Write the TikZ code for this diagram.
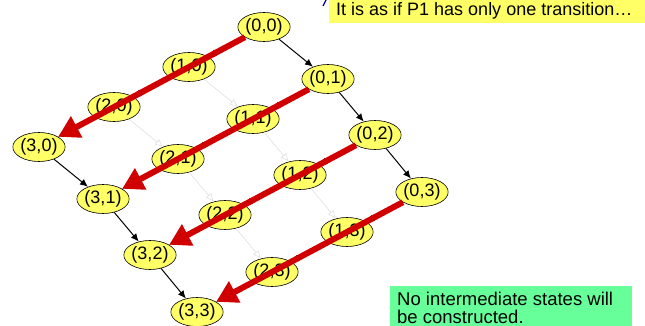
\documentclass[tikz,border=0pt]{standalone}
\usepackage{fontspec}
\setmainfont{Liberation Sans}
\usetikzlibrary{shapes.geometric,arrows.meta}
\definecolor{stYellow}{RGB}{255,255,102}
\definecolor{noteGreen}{RGB}{102,255,153}
\definecolor{bigRed}{RGB}{208,0,0}
\tikzset{
  st/.style={ellipse,draw=black,line width=0.6pt,fill=stYellow,minimum width=52pt,minimum height=29pt,inner sep=0pt,font=\fontsize{18}{20}\selectfont},
  blk/.style={draw=black,line width=1pt,-{Latex[length=8pt,width=7pt]}},
  faint/.style={draw=black!14,line width=0.5pt,-{Latex[open,length=8pt,width=7pt]}},
  redarrow/.style={draw=bigRed,line width=6pt,-{Triangle[length=21pt,width=23pt]}},
  notetext/.style={anchor=base west,inner sep=0pt,font=\fontsize{18}{20}\selectfont},
  greentext/.style={anchor=base west,inner sep=0pt,font=\fontsize{18.5}{20}\selectfont}
}
\begin{document}
\begin{tikzpicture}[x=1pt,y=-1pt]
\useasboundingbox (0,0) rectangle (645,326);
% note boxes
\fill[stYellow] (329,0) rectangle (645,23);
\node[notetext] (topnote) at (336,16) {It is as if P1 has only one transition…};
\fill[noteGreen] (390,286) rectangle (632,330);
\node[greentext] (gl1) at (397,305) {No intermediate states will};
\node[greentext] (gl2) at (397,323) {be constructed.};
\draw[blue!70!black,line width=1.2pt] (326,0) -- (323,6);
% states
\node[st] (n00) at (264,27) {(0,0)};
\node[st] (n01) at (328,79) {(0,1)};
\node[st] (n02) at (375,135) {(0,2)};
\node[st] (n03) at (422,192) {(0,3)};
\node[st] (n10) at (189,67) {(1,0)};
\node[st] (n11) at (253,119) {(1,1)};
\node[st] (n12) at (300,175) {(1,2)};
\node[st] (n13) at (347,232) {(1,3)};
\node[st] (n20) at (114,107) {(2,0)};
\node[st] (n21) at (178,159) {(2,1)};
\node[st] (n22) at (225,215) {(2,2)};
\node[st] (n23) at (272,272) {(2,3)};
\node[st] (n30) at (39,147) {(3,0)};
\node[st] (n31) at (103,199) {(3,1)};
\node[st] (n32) at (150,255) {(3,2)};
\node[st] (n33) at (197,312) {(3,3)};
% black edges along second component
\foreach \i in {0,3}{
  \draw[blk] (n\i0) -- (n\i1);
  \draw[blk] (n\i1) -- (n\i2);
  \draw[blk] (n\i2) -- (n\i3);
}
% faint edges
\foreach \i in {1,2}{
  \draw[faint] (n\i0) -- (n\i1);
  \draw[faint] (n\i1) -- (n\i2);
  \draw[faint] (n\i2) -- (n\i3);
}
% black edges along first component
\foreach \j in {0,1,2,3}{
  \draw[blk] (n0\j) -- (n1\j);
  \draw[blk] (n1\j) -- (n2\j);
  \draw[blk] (n2\j) -- (n3\j);
}
% red arrows
\foreach \j in {0,1,2,3}{
  \draw[redarrow] (n0\j) -- (n3\j);
}
\end{tikzpicture}
\end{document}
